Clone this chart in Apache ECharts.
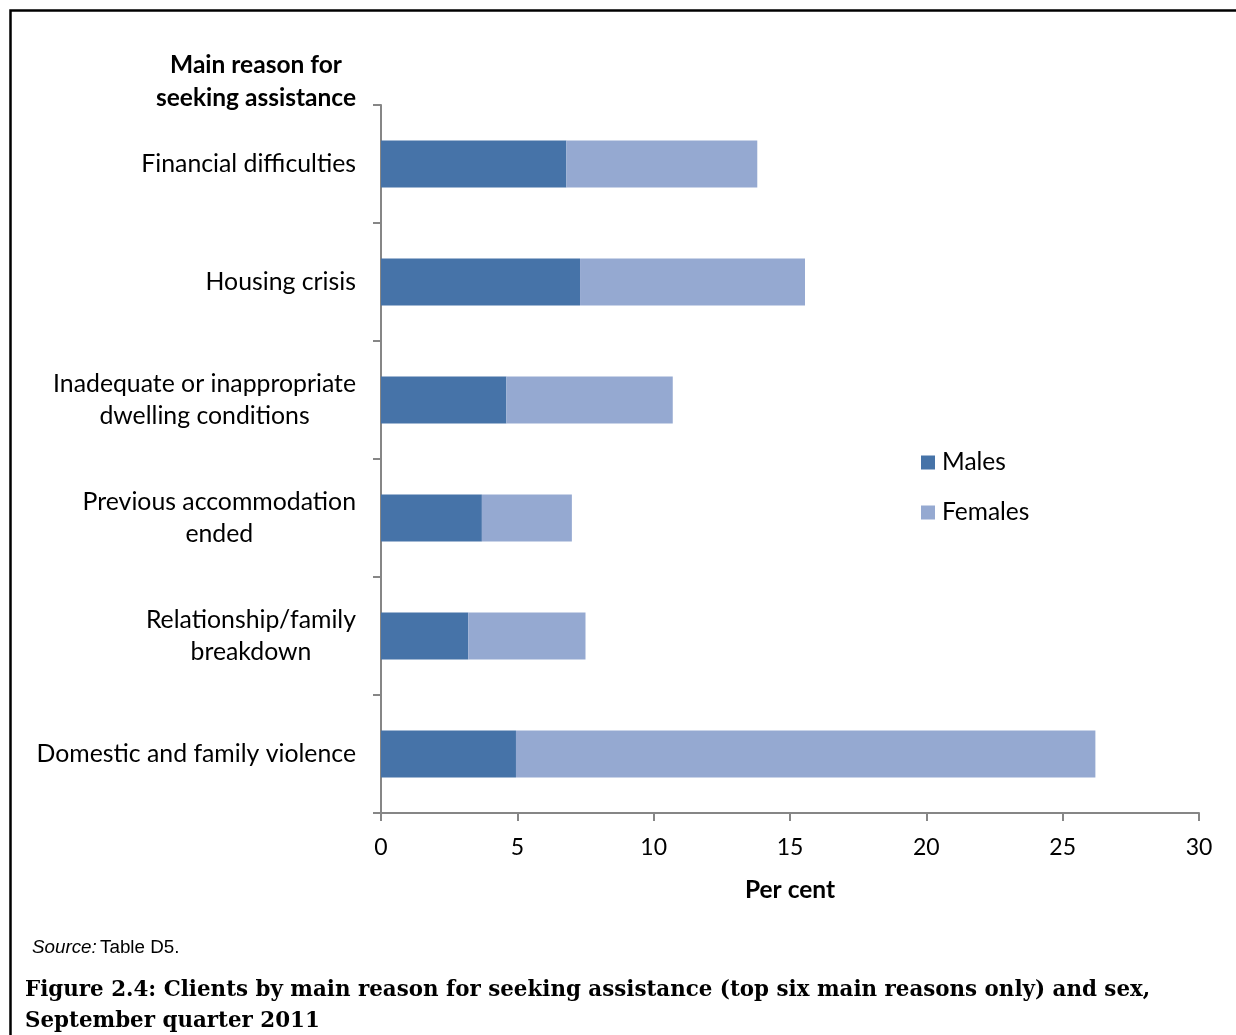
<!DOCTYPE html>
<html>
<head>
<meta charset="utf-8">
<script src="https://cdn.jsdelivr.net/npm/echarts@6/dist/echarts.min.js"></script>
<style>
  html, body { margin: 0; padding: 0; background: #fff; }
  #chart { width: 1236px; height: 1035px; }
</style>
</head>
<body>
<div id="chart"></div>
<script>
// categories (top to bottom)
const reasons = [
  'Financial difficulties',
  'Housing crisis',
  'Inadequate or inappropriate\ndwelling conditions',
  'Previous accommodation\nended',
  'Relationship/family\nbreakdown',
  'Domestic and family violence'
]
// per cent of clients
const males = [6.8, 7.3, 4.6, 3.7, 3.2, 4.95]
const females = [7.0, 8.25, 6.1, 3.3, 4.3, 21.25]
const xTicks = [0, 5, 10, 15, 20, 25, 30]

const labelFont = 'Lato, "Open Sans", sans-serif'
const axisGrey = '#868686'

const chart = echarts.init(document.getElementById('chart'))

chart.setOption({
  backgroundColor: '#fff',
  animation: false,
  grid: {
    left: 381,
    right: 37,
    top: 105,
    bottom: 222
  },
  legend: {
    data: ['Males', 'Females'],
    orient: 'vertical',
    left: 921,
    top: 450,
    padding: 0,
    itemWidth: 14,
    itemHeight: 14,
    itemGap: 25,
    icon: 'rect',
    textStyle: { fontFamily: labelFont, fontSize: 24.5, color: '#000', padding: [0, 0, 0, 2] }
  },
  xAxis: {
    type: 'value',
    min: xTicks[0],
    max: xTicks[xTicks.length - 1],
    interval: 5,
    name: 'Per cent',
    nameLocation: 'middle',
    nameGap: 65,
    nameTextStyle: { fontFamily: labelFont, fontSize: 24.5, fontWeight: 'bold', color: '#000' },
    axisLine: { show: true, lineStyle: { color: axisGrey, width: 2 } },
    axisTick: { show: true, length: 8, lineStyle: { color: axisGrey, width: 2 } },
    axisLabel: { fontFamily: labelFont, fontSize: 23, color: '#000', margin: 23 },
    splitLine: { show: false }
  },
  yAxis: {
    type: 'category',
    data: reasons,
    inverse: true,
    axisLine: { show: true, lineStyle: { color: axisGrey, width: 2 } },
    axisTick: { show: true, length: 8, lineStyle: { color: axisGrey, width: 2 } },
    axisLabel: {
      margin: 25,
      align: 'right',
      // multi-line labels: lines centred within the right-aligned block
      formatter: (v) => v.split('\n').map(s => '{c|' + s + '}').join('\n'),
      rich: {
        c: {
          align: 'center',
          fontFamily: labelFont,
          fontSize: 24.8,
          lineHeight: 32,
          color: '#000'
        }
      }
    }
  },
  series: [
    {
      name: 'Males',
      type: 'bar',
      stack: 'total',
      barWidth: 47,
      data: males,
      itemStyle: { color: '#4673A8' }
    },
    {
      name: 'Females',
      type: 'bar',
      stack: 'total',
      barWidth: 47,
      data: females,
      itemStyle: { color: '#95A9D1' }
    }
  ],
  graphic: [
    {
      type: 'rect',
      shape: { x: 10.5, y: 10.5, width: 1400, height: 1200 },
      style: { fill: 'none', stroke: '#000', lineWidth: 2.5 },
      silent: true
    },
    {
      type: 'text',
      x: 256,
      y: 49,
      style: {
        text: 'Main reason for\nseeking assistance',
        fontFamily: labelFont,
        fontSize: 24.5,
        fontWeight: 'bold',
        lineHeight: 33,
        fill: '#000',
        align: 'center'
      }
    },
    {
      type: 'text',
      left: 32,
      top: 938,
      style: {
        rich: {
          i: { fontFamily: '"Liberation Sans", Arial, sans-serif', fontStyle: 'italic', fontSize: 18.8, fill: '#000' },
          n: { fontFamily: '"Liberation Sans", Arial, sans-serif', fontSize: 18.8, fill: '#000' }
        },
        text: '{i|Source:} {n|Table D5.}'
      }
    },
    {
      type: 'text',
      left: 25,
      top: 975,
      style: {
        text: 'Figure 2.4: Clients by main reason for seeking assistance (top six main reasons only) and sex,\nSeptember quarter 2011',
        fontFamily: '"DejaVu Serif", "Liberation Serif", serif',
        fontSize: 21.4,
        fontWeight: 'bold',
        lineHeight: 31,
        fill: '#000'
      }
    }
  ]
})
</script>
</body>
</html>
